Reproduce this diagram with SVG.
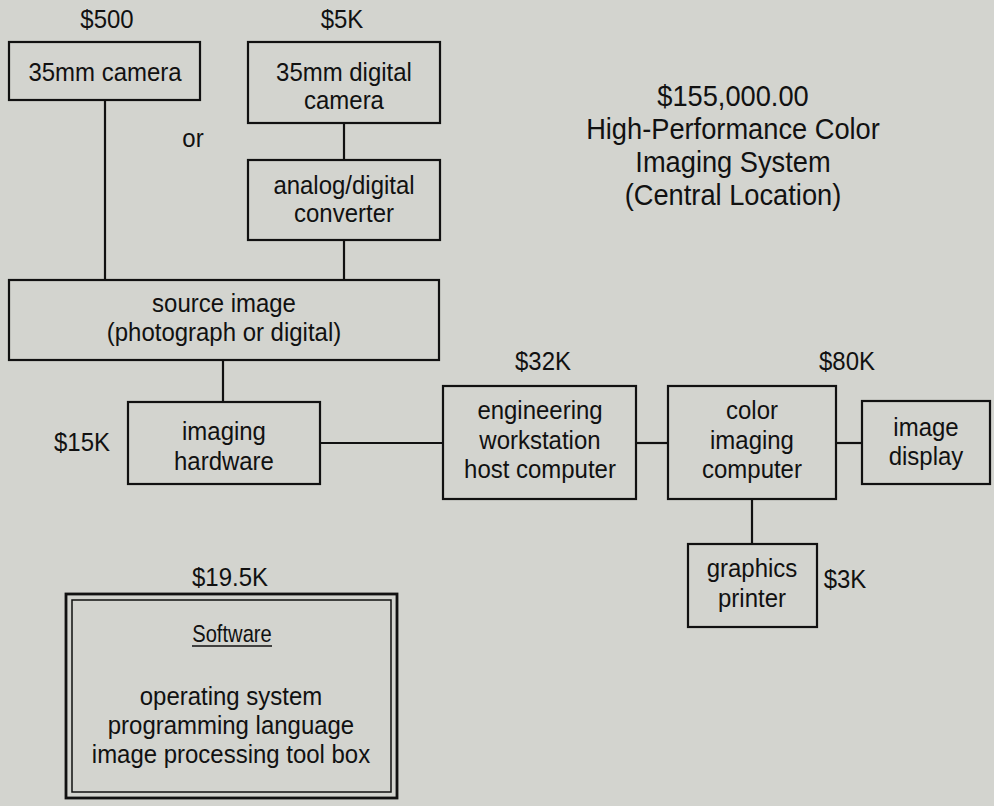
<svg xmlns="http://www.w3.org/2000/svg" width="994" height="806" viewBox="0 0 994 806">
<style>
.box{fill:none;stroke:#111;stroke-width:2.2}
.ln{stroke:#111;stroke-width:2.2;fill:none}
text{font-family:"Liberation Sans",Arial,sans-serif;font-size:25.5px;fill:#111;text-anchor:middle;transform-box:fill-box;transform-origin:center;transform:scaleX(0.94)}
.title{font-size:29px;transform:scaleX(0.94)}
.sw{font-size:24px;transform:scaleX(0.84)}
</style>
<rect x="0" y="0" width="994" height="806" fill="#d3d4cf"/>
<g id="connectors">
<line class="ln" x1="105" y1="100" x2="105" y2="280"/>
<line class="ln" x1="344" y1="123" x2="344" y2="160"/>
<line class="ln" x1="344" y1="240" x2="344" y2="280"/>
<line class="ln" x1="223" y1="360" x2="223" y2="402"/>
<line class="ln" x1="320" y1="443" x2="443" y2="443"/>
<line class="ln" x1="636" y1="443" x2="668" y2="443"/>
<line class="ln" x1="836" y1="443" x2="862" y2="443"/>
<line class="ln" x1="752" y1="499" x2="752" y2="544"/>
</g>
<g id="camera35">
<rect class="box" x="9" y="42" width="191" height="58"/>
<text x="107" y="28">$500</text>
<text x="105" y="81">35mm camera</text>
</g>
<text id="or" x="193" y="147">or</text>
<g id="digitalcamera">
<rect class="box" x="248" y="42" width="192" height="81"/>
<text x="342" y="28">$5K</text>
<text x="344" y="81">35mm digital</text>
<text x="344" y="109">camera</text>
</g>
<g id="converter">
<rect class="box" x="248" y="160" width="192" height="80"/>
<text x="344" y="194">analog/digital</text>
<text x="344" y="222">converter</text>
</g>
<g id="sourceimage">
<rect class="box" x="9" y="280" width="430" height="80"/>
<text x="224" y="312">source image</text>
<text x="224" y="341">(photograph or digital)</text>
</g>
<g id="imaginghardware">
<rect class="box" x="128" y="402" width="192" height="82"/>
<text x="82" y="451">$15K</text>
<text x="224" y="440">imaging</text>
<text x="224" y="470">hardware</text>
</g>
<g id="workstation">
<rect class="box" x="443" y="386" width="193" height="113"/>
<text x="543" y="370">$32K</text>
<text x="540" y="419">engineering</text>
<text x="540" y="449">workstation</text>
<text x="540" y="478">host computer</text>
</g>
<g id="colorcomputer">
<rect class="box" x="668" y="386" width="168" height="113"/>
<text x="847" y="370">$80K</text>
<text x="752" y="419">color</text>
<text x="752" y="449">imaging</text>
<text x="752" y="478">computer</text>
</g>
<g id="display">
<rect class="box" x="862" y="401" width="128" height="83"/>
<text x="926" y="436">image</text>
<text x="926" y="465">display</text>
</g>
<g id="printer">
<rect class="box" x="688" y="544" width="129" height="83"/>
<text x="752" y="577">graphics</text>
<text x="752" y="607">printer</text>
<text x="845" y="588">$3K</text>
</g>
<g id="title">
<text class="title" x="733" y="106">$155,000.00</text>
<text class="title" x="733" y="139">High-Performance Color</text>
<text class="title" x="733" y="172">Imaging System</text>
<text class="title" x="733" y="205">(Central Location)</text>
</g>
<g id="software">
<rect x="66" y="594" width="331" height="204" fill="none" stroke="#111" stroke-width="2.8"/>
<rect x="72" y="600" width="319" height="192" fill="none" stroke="#111" stroke-width="1.5"/>
<text x="230" y="586">$19.5K</text>
<text class="sw" x="232" y="642">Software</text>
<line x1="192" y1="646" x2="272" y2="646" stroke="#111" stroke-width="1.5"/>
<text x="231" y="705">operating system</text>
<text x="231" y="734">programming language</text>
<text x="231" y="763">image processing tool box</text>
</g>
</svg>
